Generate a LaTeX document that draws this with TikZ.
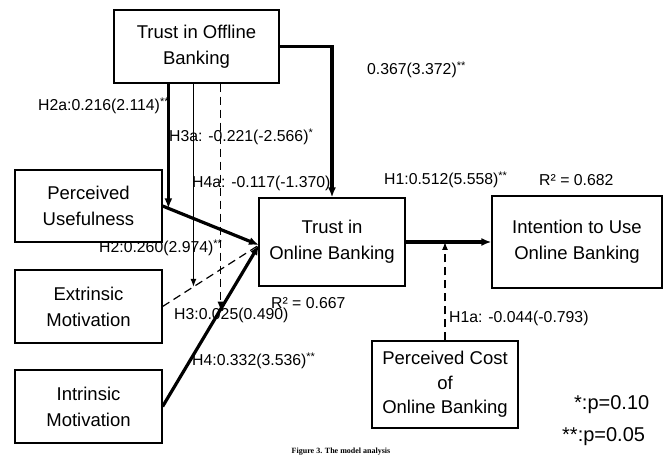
\documentclass[tikz,border=0pt]{standalone}
\usepackage{fontspec}
\setmainfont{Liberation Sans}
\newfontfamily\capfont{Liberation Serif}
\usetikzlibrary{arrows.meta,calc}
\begin{document}
\begin{tikzpicture}[x=1pt,y=-1pt,
  box/.style={draw,line width=1.2pt,rectangle,align=center,inner sep=0pt,
    font=\fontsize{18.5}{26}\selectfont},
  lbl/.style={anchor=west,inner sep=0pt,font=\fontsize{15.8}{17}\selectfont},
  sig/.style={anchor=west,inner sep=0pt,font=\fontsize{20}{22}\selectfont},
  thickarrow/.style={line width=3.2pt,-{Latex[length=10pt,width=8pt]}},
  thinarrow/.style={line width=1.2pt,-{Latex[length=8pt,width=6pt]}},
  dasharrow/.style={line width=1.2pt,dash pattern=on 8pt off 5pt,-{Latex[length=8pt,width=6pt]}},
  dashline/.style={line width=1.2pt,dash pattern=on 8pt off 5pt}]
\useasboundingbox (0,0) rectangle (664,457);
\fill[white] (0,0) rectangle (664,457);

% boxes
\node[box,minimum width=165pt,minimum height=73pt] (OFF) at (196.5,46.5) {Trust in Offline\\Banking};
\node[box,minimum width=147pt,minimum height=72pt] (PU) at (88.5,206) {Perceived\\Usefulness};
\node[box,minimum width=147pt,minimum height=73pt] (EM) at (88.5,306.5) {Extrinsic\\Motivation};
\node[box,minimum width=147pt,minimum height=73pt] (IM) at (88.5,406.5) {Intrinsic\\Motivation};
\node[box,minimum width=146pt,minimum height=88pt] (TO) at (332,242) {Trust in\\Online Banking};
\node[box,minimum width=170pt,minimum height=92pt] (IU) at (577,242) {Intention to Use\\Online Banking};
\node[box,minimum width=146pt,minimum height=87pt,font=\fontsize{18.5}{24.5}\selectfont] (PC) at (445,384.5) {Perceived Cost\\of\\Online Banking};

% labels
\node[lbl] (l367) at (367,70) {0.367(3.372)\textsuperscript{**}};
\node[lbl] (lh2a) at (38,106) {H2a:0.216(2.114)\textsuperscript{**}};
\node[lbl] (lh3a) at (169,137) {H3a: -0.221(-2.566)\textsuperscript{*}};
\node[lbl] (lh4a) at (192,183) {H4a: -0.117(-1.370)};
\node[lbl] (lh2) at (99,248) {H2:0.260(2.974)\textsuperscript{**}};
\node[lbl] (lh3) at (174,315) {H3:0.025(0.490)};
\node[lbl] (lh4) at (192,361) {H4:0.332(3.536)\textsuperscript{**}};
\node[lbl] (lr1) at (271,303) {R² = 0.667};
\node[lbl] (lh1) at (384,180) {H1:0.512(5.558)\textsuperscript{**}};
\node[lbl] (lr2) at (539,180) {R² = 0.682};
\node[lbl] (lh1a) at (449,318) {H1a: -0.044(-0.793)};
\node[sig] (p10) at (574,405) {*:p=0.10};
\node[sig] (p05) at (562,437) {**:p=0.05};
\node[font=\capfont\bfseries\fontsize{8}{9}\selectfont,inner sep=0pt] (cap) at (341,451.5) {Figure 3. The model analysis};

% connectors
\coordinate (tin) at (259,245);
\draw[thickarrow] (PU.east) -- (tin);
\draw[dashline] (EM.east) -- (tin);
\draw[thickarrow] (IM.east) -- (tin);
\draw[thickarrow] (OFF.east) -| (TO.north);
\draw[thickarrow] (TO.east) -- (IU.west);

\coordinate (m1) at ($(PU.east)!0.06!(tin)$);
\coordinate (m2) at ($(EM.east)!0.32!(tin)$);
\coordinate (m3) at ($(IM.east)!0.60!(tin)$);
\draw[thickarrow] (m1 |- OFF.south) -- (m1);
\draw[thinarrow] (m2 |- OFF.south) -- (m2);
\draw[dasharrow] (m3 |- OFF.south) -- (m3);
\draw[dasharrow] (PC.north) -- (PC.north |- TO.east);
\end{tikzpicture}
\end{document}
